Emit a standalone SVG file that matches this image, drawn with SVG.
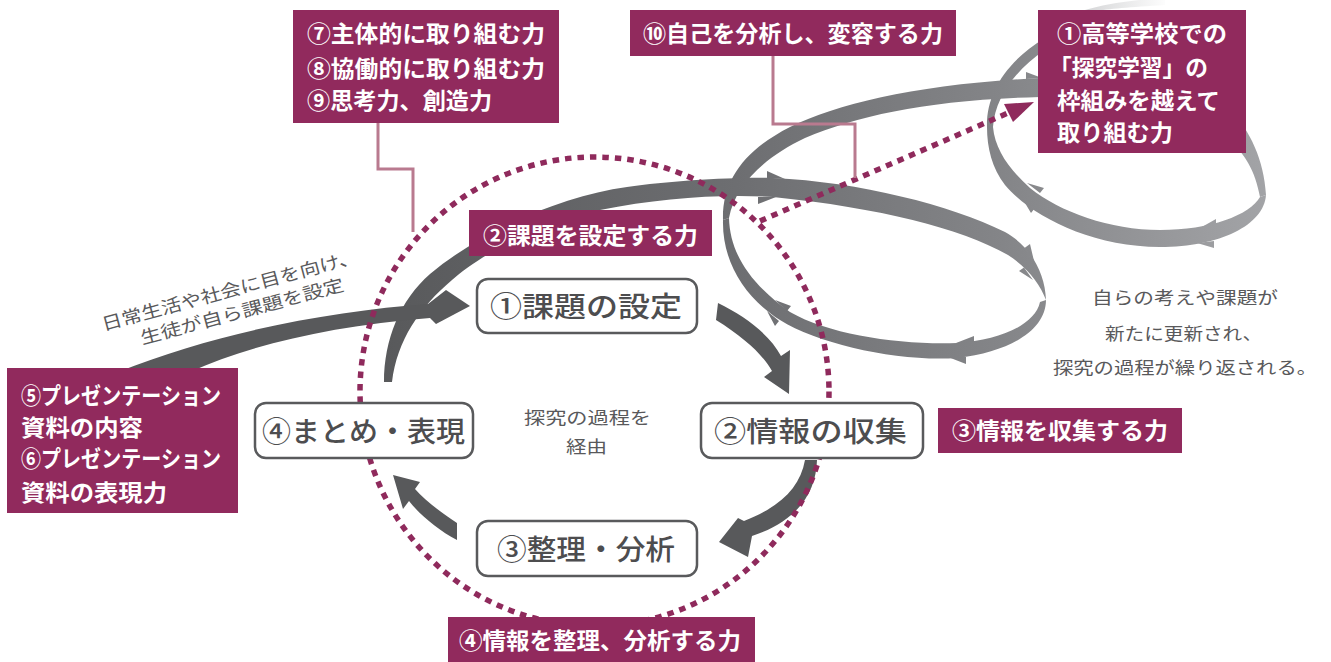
<svg xmlns="http://www.w3.org/2000/svg" width="1331" height="662" viewBox="0 0 1331 662">
<defs>
<linearGradient id="rib" gradientUnits="userSpaceOnUse" x1="380" y1="0" x2="1270" y2="0">
<stop offset="0" stop-color="#58595b"/>
<stop offset="0.4" stop-color="#6d6e71"/>
<stop offset="0.7" stop-color="#848588"/>
<stop offset="1" stop-color="#a3a4a7"/>
</linearGradient>
<linearGradient id="fade" gradientUnits="userSpaceOnUse" x1="1060" y1="0" x2="1170" y2="0">
<stop offset="0" stop-color="#c9cacc"/>
<stop offset="1" stop-color="#ffffff"/>
</linearGradient>
<style>
.box{fill:#912a5d}
.bt{font-family:"Noto Sans CJK JP","Noto Sans CJK SC",sans-serif;font-weight:700;font-size:23px;fill:#ffffff}
.node rect{fill:#ffffff;stroke:#595a5c;stroke-width:2.5}
.nt{font-family:"Noto Sans CJK JP","Noto Sans CJK SC",sans-serif;font-weight:500;font-size:28px;fill:#4d4d4f}
.st{font-family:"Noto Sans CJK JP","Noto Sans CJK SC",sans-serif;font-weight:400;font-size:17.5px;fill:#59595b}
.rib{fill:url(#rib)}
.dk{fill:#58595b}
.dot{fill:none;stroke:#8f2a5c;stroke-width:5.5;stroke-dasharray:6.5 6}
.lead{fill:none;stroke:#b97a8f;stroke-width:3}
</style>
</defs>
<rect width="1331" height="662" fill="#ffffff"/>

<g id="connectors">
  <!-- spiral: second loop (behind) -->
  <path d="M1085,10 C1105,4 1130,0 1165,-2 L1165,5 C1130,7 1108,9 1095,11 Z" fill="url(#fade)"/>
  <path class="rib" d="M1230,110 C1250,130 1264,160 1266,195 L1260,197 C1255,170 1245,155 1230,140 Z"/>
  <path class="rib" d="M1266,195 C1264,225 1220,247 1160,247 C1090,247 1030,215 1005,185 C992,168 987,148 987,127 L993,127 C995,150 1010,170 1030,188 C1060,212 1110,230 1160,230 C1210,230 1250,215 1260,197 Z"/>
  <path class="rib" d="M987,127 C986,95 1005,62 1045,38 L1045,50 C1015,70 995,98 993,127 Z"/>
  <!-- spiral: first loop -->
  <path class="rib" d="M1046,300 C1046,330 1010,352 957,358 C900,362 820,345 780,320 C745,298 722,262 723,220 L729,218 C730,255 752,285 790,312 C830,335 900,345 957,343 C1000,340 1035,325 1040,302 Z"/>
  <path class="rib" d="M723,220 C722,180 745,150 790,127 C840,103 920,84 1040,78 L1040,97 C930,100 860,115 805,138 C765,157 735,185 729,218 Z"/>
  <path class="rib" d="M384,382 C384,340 400,300 430,274 C480,232 560,196 627,187 C670,181 730,177 773,178 C860,182 950,205 1005,232 C1030,246 1045,272 1046,300 C1040,284 1028,268 1008,255 C960,228 880,208 773,197 C720,194 660,198 600,210 C540,222 480,255 452,280 C420,307 397,340 392,382 Z"/>
  <!-- barbs -->
  <path class="rib" d="M767,178 L767,171 L785,179 Z M758,197 L758,204 L776,197 Z"/>
  <path class="rib" d="M1024.5,248 L1030,244 L1034,261 Z M1024,267.5 L1019,271 L1033,280 Z"/>
  <path class="rib" d="M974,343 L974,336 L956,343 Z M966,357 L966,364 L948,357 Z"/>
  <path class="rib" d="M779,321 L775,326 L767,311 Z M787,311 L791,306 L775,300 Z"/>
  <path class="rib" d="M1026,79 L1026,72 L1042,78 Z"/>
  <path class="rib" d="M1216,226 L1216,219 L1200,228 Z M1214,241 L1214,248 L1197,243 Z"/>
  <path class="rib" d="M1035,208 L1031,213 L1022,198 Z M1040,193 L1044,188 L1027,183 Z"/>

  <!-- cycle arrows -->
  <path id="arrow-in" class="dk" d="M118,372 C215,333 330,311 428,304 L446,290 L470,306 L436,324 L430,318 C330,326 250,345 190,372 Z"/>
  <path id="arrow-1-2" class="dk" d="M718,303 C745,316 770,335 781,356 L790,350 L789,394 L764,377 L772,371 C763,355 745,338 716,320 Z"/>
  <path id="arrow-2-3" class="dk" d="M817,460 C816,495 795,522 752,536 L748,557 L719,542 L738,518 L744,521 C780,507 800,488 805,460 Z"/>
  <path id="arrow-3-4" class="dk" d="M457,523 C440,512 425,500 415,489 L420,482 L393,475 L403,509 L409,501 C420,515 438,530 457,540 Z"/>

  <!-- dotted ring and branch -->
  <circle class="dot" cx="594.5" cy="391.5" r="234.5"/>
  <line class="dot" x1="760" y1="221" x2="1008" y2="113"/>
  <polygon points="1034,102 1013,122 1004,104" fill="#8f2a5c"/>

  <!-- leader lines -->
  <polyline class="lead" points="378,123 378,169 413,169 413,232"/>
  <polyline class="lead" points="773,56 773,124 855,124 855,178"/>
</g>

<g id="label-789">
  <rect class="box" x="293" y="10" width="266" height="113"/>
  <text class="bt" x="307" y="42" textLength="238" lengthAdjust="spacingAndGlyphs">⑦主体的に取り組む力</text>
  <text class="bt" x="307" y="77" textLength="238" lengthAdjust="spacingAndGlyphs">⑧協働的に取り組む力</text>
  <text class="bt" x="307" y="109" textLength="185" lengthAdjust="spacingAndGlyphs">⑨思考力、創造力</text>
</g>
<g id="label-10">
  <rect class="box" x="630" y="10" width="326" height="46"/>
  <text class="bt" x="643" y="42" textLength="300" lengthAdjust="spacingAndGlyphs">⑩自己を分析し、変容する力</text>
</g>
<g id="label-1">
  <rect class="box" x="1038" y="10" width="208" height="143"/>
  <text class="bt" x="1057" y="42" textLength="170" lengthAdjust="spacingAndGlyphs">①高等学校での</text>
  <text class="bt" x="1049" y="76" textLength="159" lengthAdjust="spacingAndGlyphs">「探究学習」の</text>
  <text class="bt" x="1057" y="109" textLength="163" lengthAdjust="spacingAndGlyphs">枠組みを越えて</text>
  <text class="bt" x="1057" y="141" textLength="116" lengthAdjust="spacingAndGlyphs">取り組む力</text>
</g>
<g id="label-2">
  <rect class="box" x="469" y="210" width="243" height="46"/>
  <text class="bt" x="483" y="244" textLength="215" lengthAdjust="spacingAndGlyphs">②課題を設定する力</text>
</g>
<g id="label-3">
  <rect class="box" x="938" y="408" width="244" height="45"/>
  <text class="bt" x="952" y="439" textLength="216" lengthAdjust="spacingAndGlyphs">③情報を収集する力</text>
</g>
<g id="label-4">
  <rect class="box" x="448" y="617" width="307" height="45"/>
  <text class="bt" x="459" y="649" textLength="282" lengthAdjust="spacingAndGlyphs">④情報を整理、分析する力</text>
</g>
<g id="label-56">
  <rect class="box" x="7" y="368" width="231" height="145"/>
  <text class="bt" x="21" y="404" textLength="200" lengthAdjust="spacingAndGlyphs">⑤プレゼンテーション</text>
  <text class="bt" x="21" y="436" textLength="122" lengthAdjust="spacingAndGlyphs">資料の内容</text>
  <text class="bt" x="21" y="467" textLength="200" lengthAdjust="spacingAndGlyphs">⑥プレゼンテーション</text>
  <text class="bt" x="21" y="501" textLength="146" lengthAdjust="spacingAndGlyphs">資料の表現力</text>
</g>

<g id="node-1" class="node">
  <rect x="477" y="279" width="220" height="54" rx="11"/>
  <text class="nt" x="490" y="316.5" textLength="192" lengthAdjust="spacingAndGlyphs">①課題の設定</text>
</g>
<g id="node-2" class="node">
  <rect x="701" y="403" width="222" height="55" rx="11"/>
  <text class="nt" x="714" y="441.5" textLength="193" lengthAdjust="spacingAndGlyphs">②情報の収集</text>
</g>
<g id="node-3" class="node">
  <rect x="477" y="521" width="220" height="55" rx="11"/>
  <text class="nt" x="497" y="559.5" textLength="178" lengthAdjust="spacingAndGlyphs">③整理・分析</text>
</g>
<g id="node-4" class="node">
  <rect x="255" y="403" width="218" height="55" rx="11"/>
  <text class="nt" x="262" y="441.5" textLength="203" lengthAdjust="spacingAndGlyphs">④まとめ・表現</text>
</g>

<g id="note-center">
  <text class="st" x="524" y="423.6" textLength="127" lengthAdjust="spacingAndGlyphs">探究の過程を</text>
  <text class="st" x="566" y="452.6" textLength="41" lengthAdjust="spacingAndGlyphs">経由</text>
</g>
<g id="note-right">
  <text class="st" x="1092" y="303.6" textLength="186" lengthAdjust="spacingAndGlyphs">自らの考えや課題が</text>
  <text class="st" x="1105" y="339.6" textLength="157" lengthAdjust="spacingAndGlyphs">新たに更新され、</text>
  <text class="st" x="1053" y="373.6" textLength="264" lengthAdjust="spacingAndGlyphs">探究の過程が繰り返される。</text>
</g>
<g id="note-left">
  <text class="st" transform="translate(230,290) rotate(-15)" x="0" y="6.6" text-anchor="middle" textLength="265" lengthAdjust="spacingAndGlyphs">日常生活や社会に目を向け、</text>
  <text class="st" transform="translate(242,311) rotate(-15)" x="0" y="6.6" text-anchor="middle" textLength="210" lengthAdjust="spacingAndGlyphs">生徒が自ら課題を設定</text>
</g>
</svg>
